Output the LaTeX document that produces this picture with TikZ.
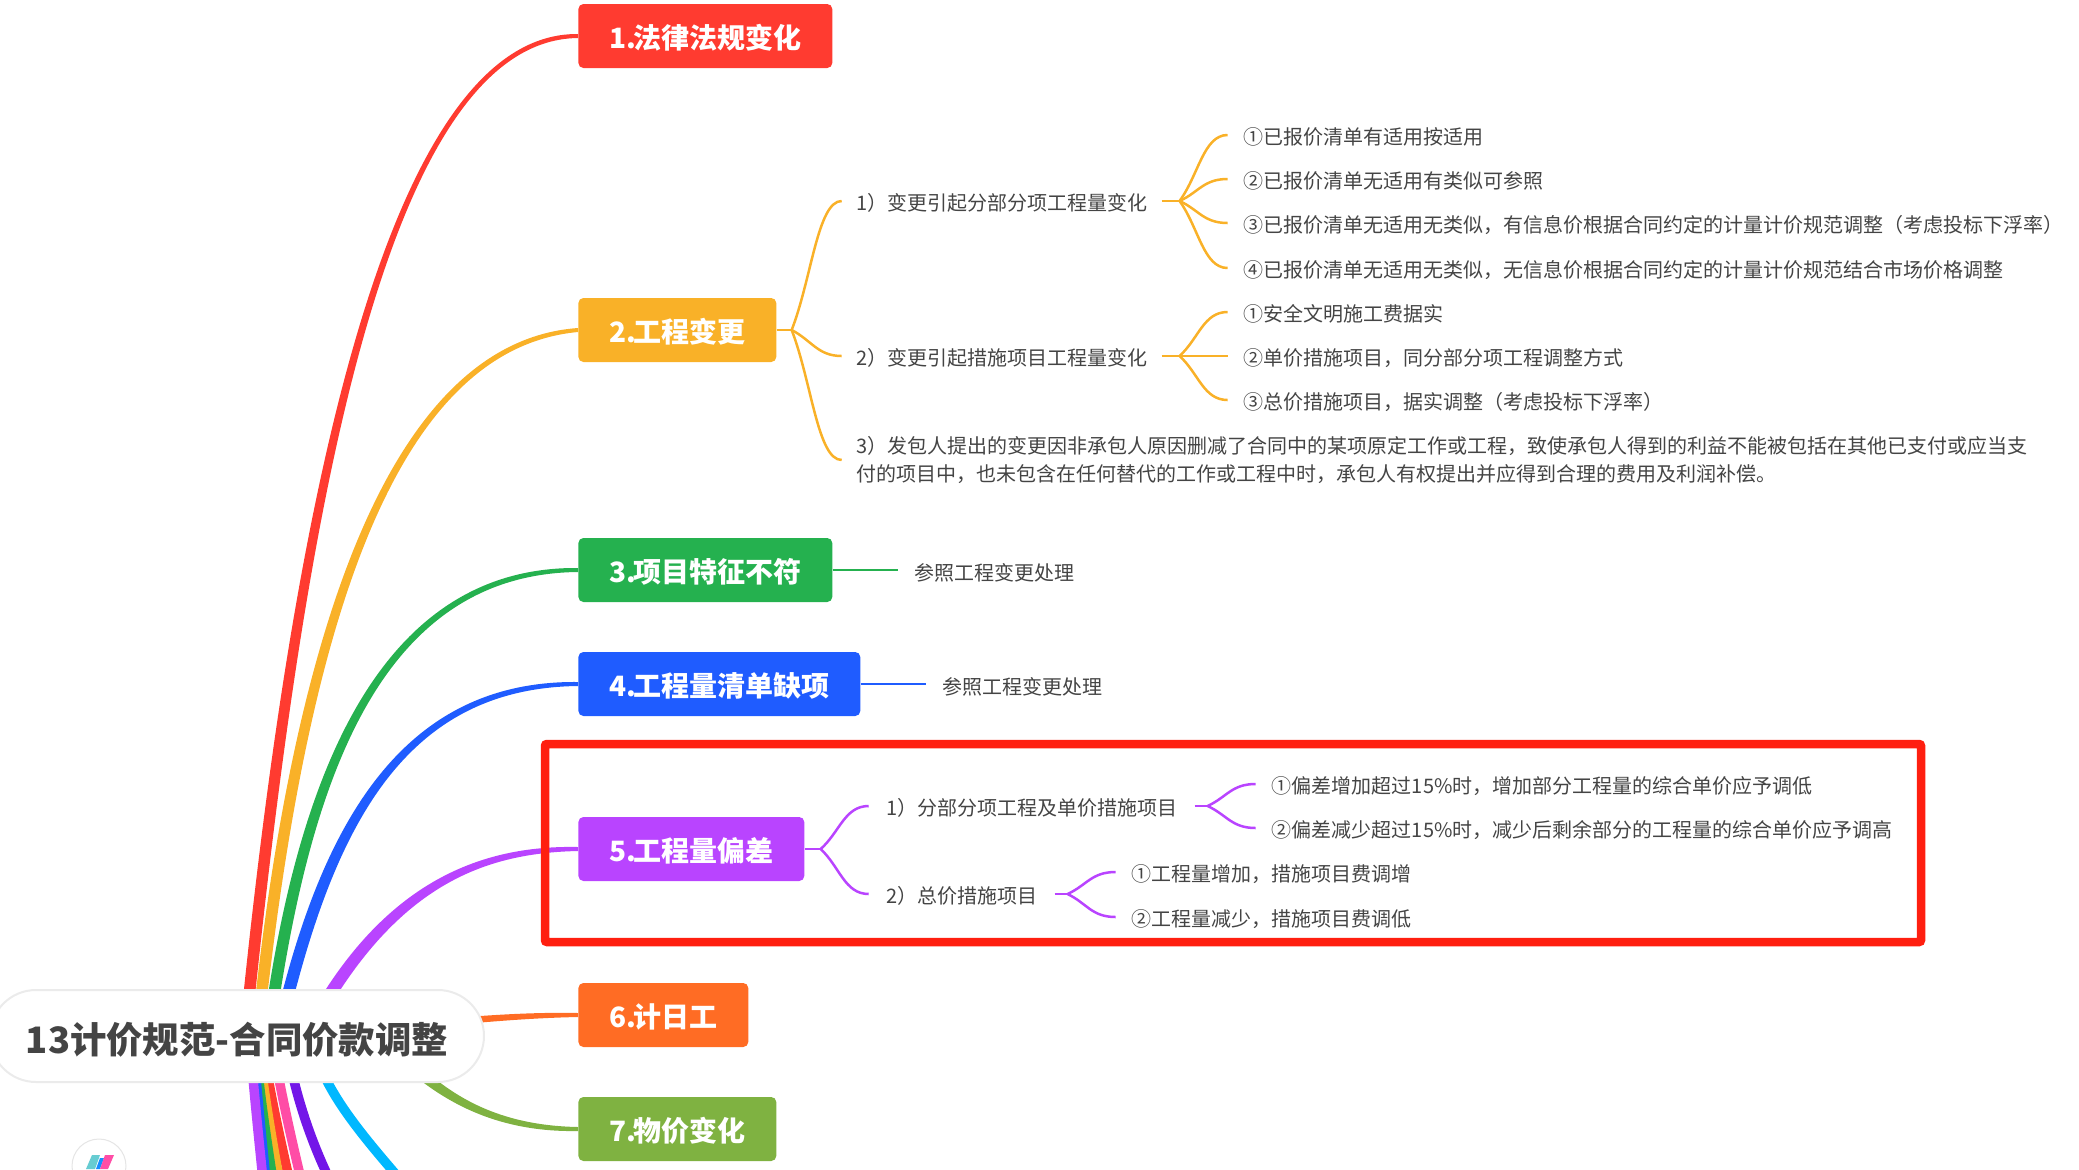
\documentclass[tikz,border=0pt]{standalone}
\usepackage{fontspec}
\setmainfont{Noto Sans CJK SC}
\usetikzlibrary{positioning, calc, backgrounds}
\definecolor{ink}{HTML}{444444}
\definecolor{cred}{HTML}{FF3B30}
\definecolor{cyellow}{HTML}{F9B128}
\definecolor{cgreen}{HTML}{25B14F}
\definecolor{cblue}{HTML}{1F5CFF}
\definecolor{cpurple}{HTML}{B944FF}
\definecolor{corange}{HTML}{FF6C24}
\definecolor{colive}{HTML}{7FB241}
\definecolor{cpink}{HTML}{FF4DA6}
\definecolor{cviolet}{HTML}{7316E8}
\definecolor{ccyan}{HTML}{00B8FF}
\definecolor{cmark}{HTML}{FF1F10}
\tikzset{
  topic/.style={anchor=west, rounded corners=2.5pt, text=white, minimum height=32pt, inner xsep=15.5pt, inner ysep=0pt, text height=13pt, text depth=0.4pt, font=\fontsize{14}{16}\selectfont\bfseries},
  subitem/.style={text=ink, inner xsep=7pt, inner ysep=0pt, text height=10pt, text depth=0.5pt, font=\fontsize{10}{14}\selectfont},
  leaf/.style={subitem, inner xsep=8pt},
  limb/.style={line width=4.75pt},
  twig/.style={line width=1.25pt},
  twigbend/.style={twig, to path={.. controls ($(\tikztostart)!.4!(\tikztotarget)$) and ($(\tikztotarget)+(-24,0)$) .. (\tikztotarget)}}
}
\newcommand{\limbtaper}[6]{\fill[#1] ($(#2)+(-5.5*#6,-3)$) .. controls ($(#3)+(-6*#6,-3)$) and ($(#4)+(0,-4)$) .. ($(#5)+(0,-2)$) -- ($(#5)+(0,2)$) .. controls ($(#4)+(0,4)$) and ($(#3)+(6*#6,3)$) .. ($(#2)+(5.5*#6,3)$) -- cycle;}
\begin{document}
\begin{tikzpicture}[x=0.5pt, y=-0.5pt]
  \clip (0,0) rectangle (2079,1169);
  \node[draw=black!8, line width=1pt, fill=white, rounded corners=23pt, minimum width=247pt, minimum height=46pt, inner sep=0pt, text=ink, text height=18pt, text depth=0.3pt, font=\fontsize{18.2}{20}\selectfont\bfseries] (C) at (237,1036) {13计价规范-合同价款调整};

  \node[topic, fill=cred]    (T1) at (578,36)   {1.\hspace{-1.5pt}法律法规变化};
  \node[topic, fill=cyellow] (T2) at (578,330)  {2.\hspace{-1.5pt}工程变更};
  \node[topic, fill=cgreen]  (T3) at (578,570)  {3.\hspace{-1.5pt}项目特征不符};
  \node[topic, fill=cblue]   (T4) at (578,684)  {4.\hspace{-1.5pt}工程量清单缺项};
  \node[topic, fill=cpurple] (T5) at (578,849)  {5.\hspace{-1.5pt}工程量偏差};
  \node[topic, fill=corange] (T6) at (578,1015) {6.\hspace{-1.5pt}计日工};
  \node[topic, fill=colive]  (T7) at (578,1129) {7.\hspace{-1.5pt}物价变化};

  \coordinate[right=7.5pt of T2] (J2);
  \node[subitem, above right=64.5pt and 25pt of J2, anchor=west] (A1) {1）变更引起分部分项工程量变化};
  \node[subitem, below right=13pt and 25pt of J2, anchor=west]   (A2) {2）变更引起措施项目工程量变化};
  \node[subitem, below right=65pt and 25pt of J2, anchor=west, text height=, text depth=, align=left] (A3) {3）发包人提出的变更因非承包人原因删减了合同中的某项原定工作或工程，致使承包人得到的利益不能被包括在其他已支付或应当支\\付的项目中，也未包含在任何替代的工作或工程中时，承包人有权提出并应得到合理的费用及利润补偿。};

  \coordinate[right=9pt of A1] (J21);
  \node[leaf, above right=33pt and 24pt of J21, anchor=west] (A11) {①已报价清单有适用按适用};
  \node[leaf, above right=11pt and 24pt of J21, anchor=west] (A12) {②已报价清单无适用有类似可参照};
  \node[leaf, below right=11pt and 24pt of J21, anchor=west] (A13) {③已报价清单无适用无类似，有信息价根据合同约定的计量计价规范调整（考虑投标下浮率）};
  \node[leaf, below right=33.5pt and 24pt of J21, anchor=west] (A14) {④已报价清单无适用无类似，无信息价根据合同约定的计量计价规范结合市场价格调整};

  \coordinate[right=9pt of A2] (J22);
  \node[leaf, above right=22pt and 24pt of J22, anchor=west] (A21) {①安全文明施工费据实};
  \node[leaf, right=24pt of J22, anchor=west]                (A22) {②单价措施项目，同分部分项工程调整方式};
  \node[leaf, below right=22pt and 24pt of J22, anchor=west] (A23) {③总价措施项目，据实调整（考虑投标下浮率）};

  \node[leaf, right=32.5pt of T3, text height=11pt] (B1) {参照工程变更处理};
  \node[leaf, right=32.5pt of T4, text height=11pt] (B2) {参照工程变更处理};

  \coordinate[right=8pt of T5] (J5);
  \node[subitem, inner xsep=8.5pt, above right=21.5pt and 24pt of J5, anchor=west] (D1) {1）分部分项工程及单价措施项目};
  \node[subitem, inner xsep=8.5pt, below right=22.5pt and 24pt of J5, anchor=west] (D2) {2）总价措施项目};

  \coordinate[right=6.5pt of D1] (J51);
  \node[leaf, above right=11pt and 24pt of J51, anchor=west] (D11) {①偏差增加超过15\%时，增加部分工程量的综合单价应予调低};
  \node[leaf, below right=11pt and 24pt of J51, anchor=west] (D12) {②偏差减少超过15\%时，减少后剩余部分的工程量的综合单价应予调高};

  \coordinate[right=6.5pt of D2] (J52);
  \node[leaf, above right=11pt and 24pt of J52, anchor=west] (D21) {①工程量增加，措施项目费调增};
  \node[leaf, below right=11.5pt and 24pt of J52, anchor=west] (D22) {②工程量减少，措施项目费调低};

  \coordinate (E1) at (265,1200);
  \coordinate (E2) at (268,1200);
  \coordinate (E3) at (276,1200);
  \coordinate (E4) at (283,1200);
  \coordinate (E5) at (294,1200);
  \coordinate (E6) at (306,1200);
  \coordinate (E7) at (340,1200);
  \coordinate (E8) at (405,1185);

  \begin{scope}[on background layer]
    \limbtaper{cred}{[xshift=4pt]C.center}{293,560}{377,36}{T1.west}{1}
    \limbtaper{cyellow}{[xshift=10pt]C.center}{300,620}{395,345}{T2.west}{1}
    \limbtaper{cgreen}{[xshift=15.5pt]C.center}{300,800}{370,570}{T3.west}{1}
    \limbtaper{cblue}{[xshift=20.5pt]C.center}{325,830}{400,684}{T4.west}{1}
    \limbtaper{cpurple}{[xshift=34.5pt]C.center}{385,885}{480,849}{T5.west}{1}
    \limbtaper{corange}{C.center}{400,1030}{480,1015}{T6.west}{1}
    \limbtaper{colive}{[xshift=71.5pt]C.center}{420,1075}{470,1129}{T7.west}{-1}

    \draw[limb, ccyan]   ([xshift=37.5pt]C.center) .. controls (318,1085) and (362,1135) .. (E8);
    \draw[limb, cviolet] ([xshift=24pt]C.center) .. controls (291,1075) and (305,1135) .. (E7);
    \draw[limb, cpink]   ([xshift=17.5pt]C.center) .. controls (277,1075) and (289,1130) .. (E6);
    \draw[limb, cred]    ([xshift=12.5pt]C.center) .. controls (266,1075) and (278,1130) .. (E5);
    \draw[limb, cyellow] ([xshift=10.5pt]C.center) .. controls (261,1075) and (270,1130) .. (E4);
    \draw[limb, cgreen]  ([xshift=9pt]C.center) .. controls (257,1075) and (265,1130) .. (E3);
    \draw[limb, cblue]   ([xshift=8pt]C.center) .. controls (255,1075) and (261,1130) .. (E2);
    \draw[limb, cpurple] ([xshift=6.5pt]C.center) .. controls (252,1075) and (258,1130) .. (E1);
  \end{scope}

  \draw[twig, cyellow] (T2.east) -- (J2);
  \draw[twigbend, cyellow] (J2) to (A1.west);
  \draw[twigbend, cyellow] (J2) to (A2.west);
  \draw[twigbend, cyellow] (J2) to (A3.west);
  \draw[twig, cyellow] (A1.east) -- (J21);
  \draw[twigbend, cyellow] (J21) to (A11.west);
  \draw[twigbend, cyellow] (J21) to (A12.west);
  \draw[twigbend, cyellow] (J21) to (A13.west);
  \draw[twigbend, cyellow] (J21) to (A14.west);
  \draw[twig, cyellow] (A2.east) -- (J22);
  \draw[twigbend, cyellow] (J22) to (A21.west);
  \draw[twig, cyellow] (J22) -- (A22.west);
  \draw[twigbend, cyellow] (J22) to (A23.west);

  \draw[twig, cgreen] (T3.east) -- (B1.west);
  \draw[twig, cblue]  (T4.east) -- (B2.west);

  \draw[twig, cpurple] (T5.east) -- (J5);
  \draw[twigbend, cpurple] (J5) to (D1.west);
  \draw[twigbend, cpurple] (J5) to (D2.west);
  \draw[twig, cpurple] (D1.east) -- (J51);
  \draw[twigbend, cpurple] (J51) to (D11.west);
  \draw[twigbend, cpurple] (J51) to (D12.west);
  \draw[twig, cpurple] (D2.east) -- (J52);
  \draw[twigbend, cpurple] (J52) to (D21.west);
  \draw[twigbend, cpurple] (J52) to (D22.west);

  \draw[cmark, line width=4.25pt, rounded corners=1pt] (545,744) rectangle (1921,942);

  \draw[black!10, line width=0.5pt, fill=white] (99,1166) circle (27);
  \fill[cyan!70!green!60!white] (86,1169) -- (92,1155) -- (100,1155) -- (95,1169) -- cycle;
  \fill[cblue!70!cyan] (96,1169) -- (100,1158) -- (104,1158) -- (100,1169) -- cycle;
  \fill[cpink] (100,1169) -- (105,1155) -- (114,1155) -- (108,1169) -- cycle;
\end{tikzpicture}
\end{document}
